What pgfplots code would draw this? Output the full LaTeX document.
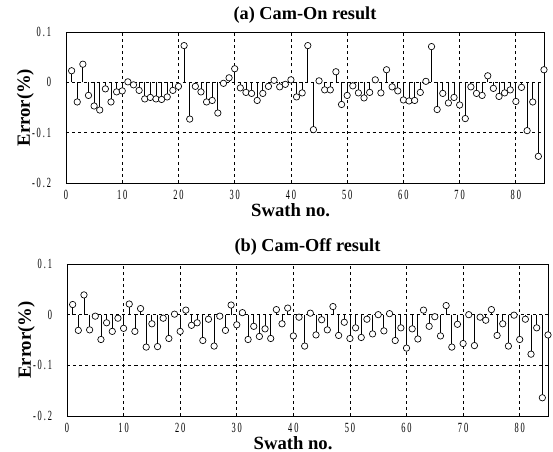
\documentclass[border=0pt]{standalone}
\usepackage{fontspec}
\setmainfont{Liberation Serif}
\usepackage{pgfplots}
\pgfplotsset{compat=1.18}
\usepackage{pgfplotstable}

% swath no. / error
\pgfplotstableread{
x y
1 0.023
2 -0.039
3 0.036
4 -0.026
5 -0.047
6 -0.055
7 -0.013
8 -0.039
9 -0.019
10 -0.017
11 0.001
12 -0.005
13 -0.016
14 -0.033
15 -0.030
16 -0.033
17 -0.034
18 -0.029
19 -0.016
20 -0.008
21 0.073
22 -0.073
23 -0.008
24 -0.019
25 -0.039
26 -0.036
27 -0.061
28 -0.002
29 0.009
30 0.027
31 -0.011
32 -0.020
33 -0.022
34 -0.036
35 -0.022
36 -0.008
37 0.004
38 -0.009
39 -0.004
40 0.005
41 -0.029
42 -0.021
43 0.073
44 -0.094
45 0.003
46 -0.015
47 -0.015
48 0.021
49 -0.044
50 -0.026
51 -0.007
52 -0.021
53 -0.031
54 -0.020
55 0.005
56 -0.021
57 0.025
58 -0.009
59 -0.017
60 -0.035
61 -0.037
62 -0.036
63 -0.020
64 0.002
65 0.071
66 -0.054
67 -0.022
68 -0.041
69 -0.030
70 -0.045
71 -0.072
72 -0.009
73 -0.022
74 -0.026
75 0.013
76 -0.012
77 -0.028
78 -0.021
79 -0.015
80 -0.038
81 -0.010
82 -0.096
83 -0.039
84 -0.147
85 0.025
}\camon

\pgfplotstableread{
x y
1 0.020
2 -0.031
3 0.039
4 -0.030
5 -0.003
6 -0.049
7 -0.016
8 -0.033
9 -0.007
10 -0.027
11 0.021
12 -0.033
13 0.012
14 -0.064
15 -0.018
16 -0.063
17 -0.007
18 -0.047
19 0.001
20 -0.033
21 0.009
22 -0.021
23 -0.016
24 -0.051
25 -0.009
26 -0.062
27 -0.003
28 -0.031
29 0.019
30 -0.020
31 0.004
32 -0.049
33 -0.023
34 -0.043
35 -0.028
36 -0.047
37 0.010
38 -0.018
39 0.013
40 -0.042
41 -0.005
42 -0.062
43 0.003
44 -0.040
45 -0.010
46 -0.030
47 0.016
48 -0.041
49 -0.015
50 -0.047
51 -0.026
52 -0.045
53 -0.009
54 -0.038
55 0.000
56 -0.032
57 0.002
58 -0.051
59 -0.026
60 -0.066
61 -0.028
62 -0.048
63 0.009
64 -0.023
65 -0.004
66 -0.042
67 0.018
68 -0.064
69 -0.019
70 -0.057
71 0.000
72 -0.061
73 -0.005
74 -0.011
75 0.010
76 -0.041
77 -0.018
78 -0.062
79 -0.001
80 -0.049
81 -0.009
82 -0.078
83 -0.026
84 -0.164
85 -0.040
}\camoff

% narrow, spaced tick digits
\newcommand{\s}{\hspace{2.4pt}}
\newcommand{\tl}[1]{\scalebox{0.6}[1]{\fontsize{10.5}{11}\selectfont #1}}

\pgfplotsset{
  swath/.style={
    scale only axis, anchor=north west,
    xmin=0, xmax=85, ymin=-0.2, ymax=0.1,
    xtick={0,10,...,80},
    xticklabels={\tl{0},\tl{1\s0},\tl{2\s0},\tl{3\s0},\tl{4\s0},\tl{5\s0},\tl{6\s0},\tl{7\s0},\tl{8\s0}},
    ytick={-0.2,-0.1,0,0.1},
    yticklabels={\tl{-\s0\s.\s2},\tl{-\s0\s.\s1},\tl{0},\tl{0\s.\s1}},
    major tick length=0pt,
    xticklabel style={inner sep=0pt, yshift=-5pt},
    yticklabel style={inner sep=0pt, xshift=-11pt},
    grid=major,
    major grid style={black, line width=0.6pt, dash pattern=on 2.3pt off 2.3pt},
    axis line style={black, line width=0.6pt},
    xlabel={Swath no.}, ylabel={Error(\%)},
    xlabel style={font=\bfseries\fontsize{14}{15}\selectfont, at={(axis description cs:0.47,0)}, anchor=center, yshift=-20pt},
    ylabel style={font=\bfseries\fontsize{14}{15}\selectfont},
    ylabel shift=-5pt,
    title style={font=\bfseries\fontsize{13.7}{15}\selectfont, at={(0.5,1)}, anchor=south, yshift=-3pt},
  },
  stem/.style={ycomb, black, line width=0.6pt, mark=*, mark size=2.4pt,
    mark options={fill=white, draw=black, line width=0.5pt}},
}

\begin{document}
\begin{tikzpicture}
\useasboundingbox (-49.5pt,24pt) rectangle (365.25pt,-315pt);
\begin{axis}[swath, at={(0pt,0pt)}, width=358.5pt, height=113.25pt,
  title={(a) Cam-On result}]
\addplot[stem] table[x=x, y=y] {\camon};
\end{axis}
\begin{axis}[swath, at={(0.75pt,-174pt)}, width=360.75pt, height=114pt,
  title={(b) Cam-Off result}]
\addplot[stem] table[x=x, y=y] {\camoff};
\end{axis}
\end{tikzpicture}
\end{document}
